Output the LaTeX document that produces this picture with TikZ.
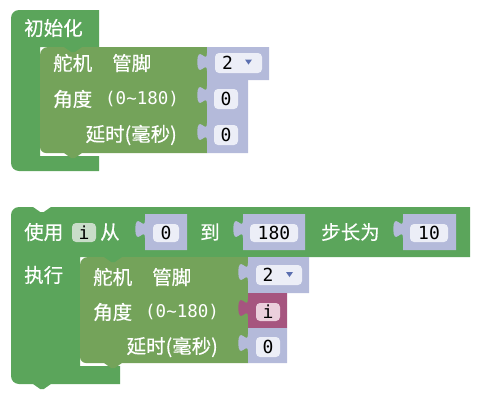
\documentclass[tikz,border=0pt]{standalone}
\usepackage{fontspec}
\setmainfont{Noto Sans CJK SC}
\newfontfamily\cjkf[BoldFont={Noto Sans CJK SC},BoldFeatures={FakeBold=0.4}]{Noto Sans CJK SC}
\newfontfamily\monof{DejaVu Sans Mono}
\definecolor{outerg}{HTML}{5BA55B}
\definecolor{innerg}{HTML}{74A35A}
\definecolor{lav}{HTML}{B4BADA}
\definecolor{fieldbg}{HTML}{ECEEF7}
\definecolor{mag}{HTML}{A6557F}
\definecolor{pinkf}{HTML}{EBCFDC}
\definecolor{varf}{HTML}{C9DDC9}
\definecolor{arrowc}{HTML}{5B6FB0}
\tikzset{
  lbl/.style={inner sep=0pt, text=white, font=\cjkf\bfseries\fontsize{19.5}{22}\selectfont, anchor=west},
  monolbl/.style={inner sep=0pt, text=white, font=\monof\fontsize{17.5}{20}\selectfont, anchor=west},
  fld/.style={rounded corners=4pt},
  fldtxt/.style={inner sep=0pt, text=black, font=\monof\fontsize{18}{20}\selectfont},
}
% value block with output tab: #1 colour, #2 x0, #3 y0, #4 x1, #5 y1
\newcommand\valblock[5]{%
  \fill[#1] (#2,#3) -- (#4,#3) -- (#4,#5) -- (#2,#5) -- (#2,#3+24)
    .. controls (#2,#3+12) and (#2-9.6,#3+33.6) .. (#2-9.6,#3+15)
    .. controls (#2-9.6,#3-3.6) and (#2,#3+18) .. (#2,#3+6) -- cycle;}
\begin{document}
\begin{tikzpicture}[x=1pt,y=-1pt]
\useasboundingbox (0,0) rectangle (477,400);

% ================= top block =================
\fill[outerg] (11,18) .. controls (11,13.6) and (14.6,10) .. (19,10) -- (99,10) -- (99,47)
  -- (40,47) -- (40,156) -- (99,156) -- (99,171) -- (19,171)
  .. controls (14.6,171) and (11,167.4) .. (11,163) -- cycle;
\fill[innerg] (40,55) .. controls (40,50.6) and (43.6,47) .. (48,47) -- (207,47) -- (207,153)
  -- (82,153) -- (74.8,158) -- (71.2,158) -- (64,153) -- (46,153)
  .. controls (42.7,153) and (40,150.3) .. (40,147) -- cycle;
\fill[outerg] (64,47) -- (71.2,52) -- (74.8,52) -- (82,47) -- cycle;

\node[lbl] (t0) at (24,28) {初始化};
\node[lbl] (t1) at (53,63) {舵机};
\node[lbl] (t2) at (112,63) {管脚};
\node[lbl] (t3) at (53,99) {角度};
\node[monolbl] (t4) at (105,99) {(0\textasciitilde180)};
\node[lbl,anchor=east] (t5) at (177,135) {延时(毫秒)};

\valblock{lav}{207}{47}{269}{80}
\fill[fieldbg,fld] (215,53) rectangle (262,73);
\node[fldtxt] (tv1) at (227.5,63) {2};
\fill[arrowc] (245,59.5) -- (252,59.5) -- (248.5,64.5) -- cycle;
\valblock{lav}{207}{80}{248}{117}
\fill[fieldbg,fld] (214,89) rectangle (238,109);
\node[fldtxt] (tv2) at (226,99) {0};
\valblock{lav}{207}{117}{248}{153}
\fill[fieldbg,fld] (214,125) rectangle (238,145);
\node[fldtxt] (tv3) at (226,135) {0};

% ================= bottom block =================
\fill[outerg] (11,215) .. controls (11,210.6) and (14.6,207) .. (19,207) -- (33,207)
  -- (40.2,212) -- (43.8,212) -- (51,207) -- (470,207) -- (470,257) -- (80,257)
  -- (80,366) -- (120,366) -- (120,384) -- (51,384) -- (43.8,389) -- (40.2,389)
  -- (33,384) -- (19,384) .. controls (14.6,384) and (11,380.4) .. (11,376) -- cycle;
\fill[innerg] (80,265) .. controls (80,260.6) and (83.6,257) .. (88,257) -- (248,257) -- (248,363)
  -- (122,363) -- (114.8,368) -- (111.2,368) -- (104,363) -- (86,363)
  .. controls (82.7,363) and (80,360.3) .. (80,357) -- cycle;
\fill[outerg] (104,257) -- (111.2,262) -- (114.8,262) -- (122,257) -- cycle;

\node[lbl] (b0) at (24,232) {使用};
\fill[varf,fld] (72,223) rectangle (96,242);
\node[fldtxt] (bi) at (84,232.5) {i};
\node[lbl] (b1) at (100,232) {从};
\node[lbl] (b2) at (200,232) {到};
\node[lbl] (b3) at (321,232) {步长为};
\node[lbl] (b4) at (24,275) {执行};

\valblock{lav}{145}{214}{187}{250}
\fill[fieldbg,fld] (153,224) rectangle (179,242);
\node[fldtxt] (bv1) at (166,233) {0};
\valblock{lav}{243}{214}{305}{250}
\fill[fieldbg,fld] (250,224) rectangle (298,242);
\node[fldtxt] (bv2) at (274,233) {180};
\valblock{lav}{403}{214}{456}{250}
\fill[fieldbg,fld] (410,224) rectangle (448,242);
\node[fldtxt] (bv3) at (429,233) {10};

\node[lbl] (c1) at (93,277) {舵机};
\node[lbl] (c2) at (152,277) {管脚};
\node[lbl] (c3) at (93,312) {角度};
\node[monolbl] (c4) at (145,312) {(0\textasciitilde180)};
\node[lbl,anchor=east] (c5) at (218,347) {延时(毫秒)};

\valblock{lav}{248}{257}{309}{293}
\fill[fieldbg,fld] (256,265) rectangle (302,285);
\node[fldtxt] (cv1) at (268,275) {2};
\fill[arrowc] (286,272) -- (293,272) -- (289.5,277) -- cycle;
\valblock{mag}{248}{293}{287}{328}
\fill[pinkf,fld] (256,303) rectangle (280,321);
\node[fldtxt] (cv2) at (268,312) {i};
\valblock{lav}{248}{328}{287}{363}
\fill[fieldbg,fld] (256,337) rectangle (280,357);
\node[fldtxt] (cv3) at (268,347) {0};
\end{tikzpicture}
\end{document}
